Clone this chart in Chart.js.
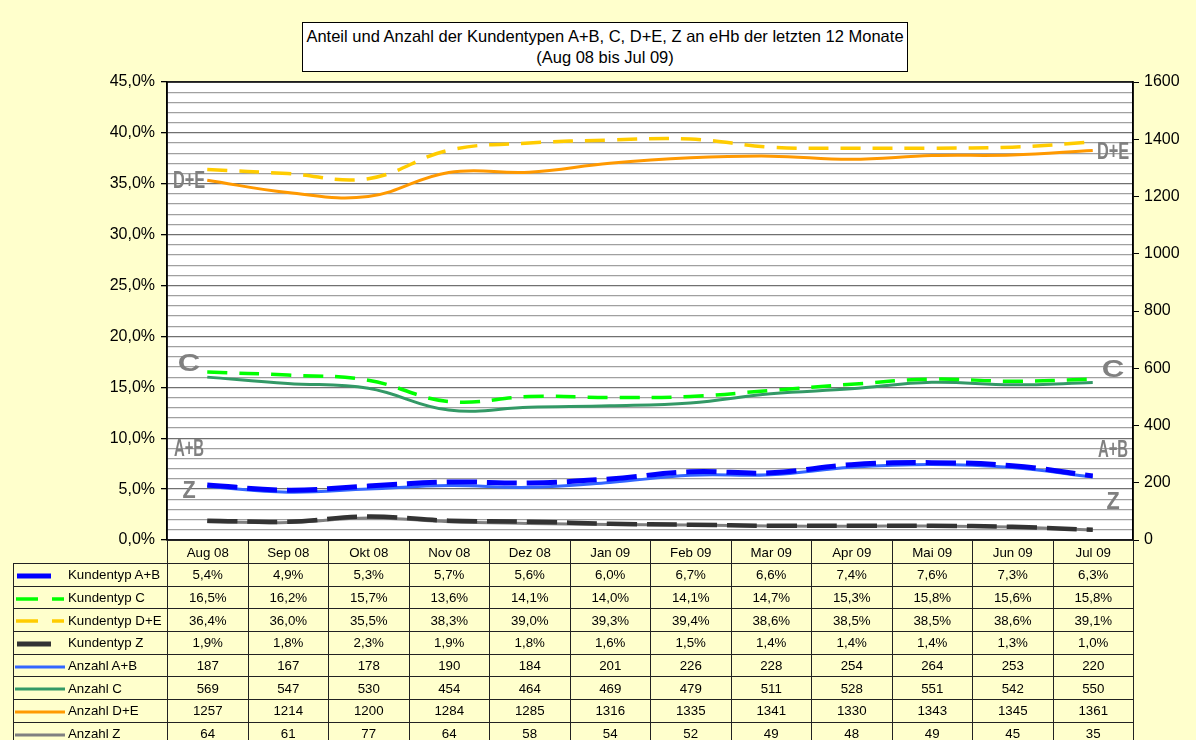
<!DOCTYPE html>
<html>
<head>
<meta charset="utf-8">
<script src="https://cdn.jsdelivr.net/npm/chart.js@4/dist/chart.umd.min.js"></script>
<style>
body{margin:0;background:#ffffcc;font-family:'Liberation Sans',Arial,sans-serif;}
#wrap{position:relative;width:1196px;height:740px;overflow:hidden;background:#ffffcc;}
#title{position:absolute;left:302px;top:22px;width:604px;background:#fff;border:1px solid #000;
  font-size:16.5px;line-height:21px;text-align:center;padding-top:3px;height:45px;color:#000;white-space:nowrap;}
#tbl{position:absolute;left:13px;top:540px;width:1120px;border-collapse:collapse;table-layout:fixed;font-size:13.3px;color:#000;}
#tbl td{border:1px solid #222;padding:0;text-align:center;white-space:nowrap;overflow:hidden;}
#tbl td.leg{text-align:left;padding-left:1px;}
#tbl td.leg svg{vertical-align:middle;margin-right:1px;}
#tbl td.blank{border-top:none;border-left:none;}
</style>
</head>
<body>
<div id="wrap">
  <canvas id="chart" width="1196" height="740"></canvas>
  <div id="title">Anteil und Anzahl der Kundentypen A+B, C, D+E, Z an eHb der letzten 12 Monate<br>(Aug 08 bis Jul 09)</div>
  <table id="tbl"></table>
</div>
<script>
// Monate
var months = ['Aug 08','Sep 08','Okt 08','Nov 08','Dez 08','Jan 09','Feb 09','Mar 09','Apr 09','Mai 09','Jun 09','Jul 09'];

// Anteile in %
var anteilAB = [5.4,4.9,5.3,5.7,5.6,6.0,6.7,6.6,7.4,7.6,7.3,6.3];
var anteilC  = [16.5,16.2,15.7,13.6,14.1,14.0,14.1,14.7,15.3,15.8,15.6,15.8];
var anteilDE = [36.4,36.0,35.5,38.3,39.0,39.3,39.4,38.6,38.5,38.5,38.6,39.1];
var anteilZ  = [1.9,1.8,2.3,1.9,1.8,1.6,1.5,1.4,1.4,1.4,1.3,1.0];

// Anzahl
var anzahlAB = [187,167,178,190,184,201,226,228,254,264,253,220];
var anzahlC  = [569,547,530,454,464,469,479,511,528,551,542,550];
var anzahlDE = [1257,1214,1200,1284,1285,1316,1335,1341,1330,1343,1345,1361];
var anzahlZ  = [64,61,77,64,58,54,52,49,48,49,45,35];

var series = [
  {label:'Kundentyp A+B', data:anteilAB, axis:'yP', color:'#0000ff', width:5, dash:[30,10], pct:true},
  {label:'Kundentyp C',   data:anteilC,  axis:'yP', color:'#00ff00', width:3.5, dash:[20,12], pct:true},
  {label:'Kundentyp D+E', data:anteilDE, axis:'yP', color:'#ffcc00', width:3.5, dash:[20,12], pct:true},
  {label:'Kundentyp Z',   data:anteilZ,  axis:'yP', color:'#333333', width:4.5, dash:[30,10], pct:true},
  {label:'Anzahl A+B', data:anzahlAB, axis:'yN', color:'#3366ff', width:3, dash:[], pct:false},
  {label:'Anzahl C',   data:anzahlC,  axis:'yN', color:'#339966', width:3, dash:[], pct:false},
  {label:'Anzahl D+E', data:anzahlDE, axis:'yN', color:'#ff9900', width:3, dash:[], pct:false},
  {label:'Anzahl Z',   data:anzahlZ,  axis:'yN', color:'#808080', width:3, dash:[], pct:false}
];

// graue Beschriftungen links/rechts (Lage in % der linken Achse, sx = Stauchung)
var sideLabels = [
  {text:'D+E', l:35.3, r:38.2, sx:0.68},
  {text:'C',   l:17.4, r:16.8, sx:1.3},
  {text:'A+B', l:9.0,  r:8.9,  sx:0.62},
  {text:'Z',   l:4.9,  r:3.8,  sx:0.9}
];

function pctFmt(v){ return v.toFixed(1).replace('.',',') + '%'; }

var bgPlugin = {
  id:'bg',
  beforeDraw: function(chart){
    var c = chart.ctx, a = chart.chartArea;
    c.save();
    c.fillStyle = '#ffffcc';
    c.fillRect(0,0,chart.width,chart.height);
    c.fillStyle = '#ffffff';
    c.fillRect(a.left,a.top,a.right-a.left,a.bottom-a.top);
    c.restore();
  },
  afterDatasetsDraw: function(chart){
    var c = chart.ctx, a = chart.chartArea, y = chart.scales.yP;
    c.fillStyle = '#808080';
    c.font = "bold 24px 'Liberation Sans',Arial,sans-serif";
    c.textAlign = 'center';
    c.textBaseline = 'middle';
    sideLabels.forEach(function(s){
      [[a.left + 22, s.l], [a.right - 20, s.r]].forEach(function(p){
        c.save();
        c.translate(p[0], y.getPixelForValue(p[1]));
        c.scale(s.sx, 1);
        c.fillText(s.text, 0, 1);
        c.restore();
      });
    });
  },
  afterDraw: function(chart){
    var c = chart.ctx, a = chart.chartArea;
    c.save();
    c.strokeStyle = '#000';
    c.lineWidth = 1.5;
    c.strokeRect(a.left,a.top,a.right-a.left,a.bottom-a.top);
    c.restore();
  }
};

new Chart(document.getElementById('chart'), {
  type:'line',
  data:{
    labels: months,
    datasets: series.map(function(s){
      return {
        label:s.label, data:s.data, yAxisID:s.axis,
        borderColor:s.color, backgroundColor:s.color,
        borderWidth:s.width, borderDash:s.dash,
        pointRadius:0, tension:0.4, fill:false
      };
    })
  },
  options:{
    responsive:false,
    animation:false,
    devicePixelRatio:1,
    layout:{padding:{top:82,bottom:200,left:0,right:0}},
    plugins:{legend:{display:false}, tooltip:{enabled:false}},
    scales:{
      x:{display:false, offset:true},
      yP:{
        position:'left', min:0, max:45,
        afterFit:function(s){ s.width = 167; },
        ticks:{stepSize:1, autoSkip:false, padding:6, color:'#000',
          font:{family:"'Liberation Sans',Arial,sans-serif", size:16},
          callback:function(v){ return v % 5 === 0 ? pctFmt(v) : ''; }},
        grid:{
          color:function(ctx){ return ctx.tick && ctx.tick.value % 5 === 0 ? '#707070' : '#a0a0a0'; },
          tickColor:function(ctx){ return ctx.tick && ctx.tick.value % 5 === 0 ? '#000' : 'rgba(0,0,0,0)'; },
          tickLength:6, lineWidth:1.3
        },
        border:{color:'#000', width:1.5}
      },
      yN:{
        position:'right', min:0, max:1600,
        afterFit:function(s){ s.width = 63; },
        ticks:{stepSize:200, padding:5, color:'#000',
          font:{family:"'Liberation Sans',Arial,sans-serif", size:16},
          callback:function(v){ return String(v); }},
        grid:{drawOnChartArea:false, tickColor:'#000', tickLength:6},
        border:{color:'#000', width:1.5}
      }
    }
  },
  plugins:[bgPlugin]
});

// Datentabelle
function marker(s){
  var svg = '<svg width="52" height="8">';
  if (s.pct && s.width < 4) {
    svg += '<line x1="1" y1="4" x2="23" y2="4" stroke="'+s.color+'" stroke-width="3.5"/>';
    svg += '<line x1="37" y1="4" x2="49" y2="4" stroke="'+s.color+'" stroke-width="3.5"/>';
  } else if (s.pct) {
    svg += '<line x1="2" y1="4" x2="36" y2="4" stroke="'+s.color+'" stroke-width="5"/>';
  } else {
    svg += '<line x1="0" y1="4" x2="50" y2="4" stroke="'+s.color+'" stroke-width="3"/>';
  }
  return svg + '</svg>';
}

var html = '<colgroup><col style="width:154px">';
months.forEach(function(){ html += '<col style="width:80.5px">'; });
html += '</colgroup>';
html += '<tr style="height:23px"><td class="blank"></td>';
months.forEach(function(m){ html += '<td>'+m+'</td>'; });
html += '</tr>';
series.forEach(function(s){
  html += '<tr style="height:22.7px"><td class="leg">'+marker(s)+s.label+'</td>';
  s.data.forEach(function(v){ html += '<td>'+(s.pct ? pctFmt(v) : v)+'</td>'; });
  html += '</tr>';
});
document.getElementById('tbl').innerHTML = html;
</script>
</body>
</html>
